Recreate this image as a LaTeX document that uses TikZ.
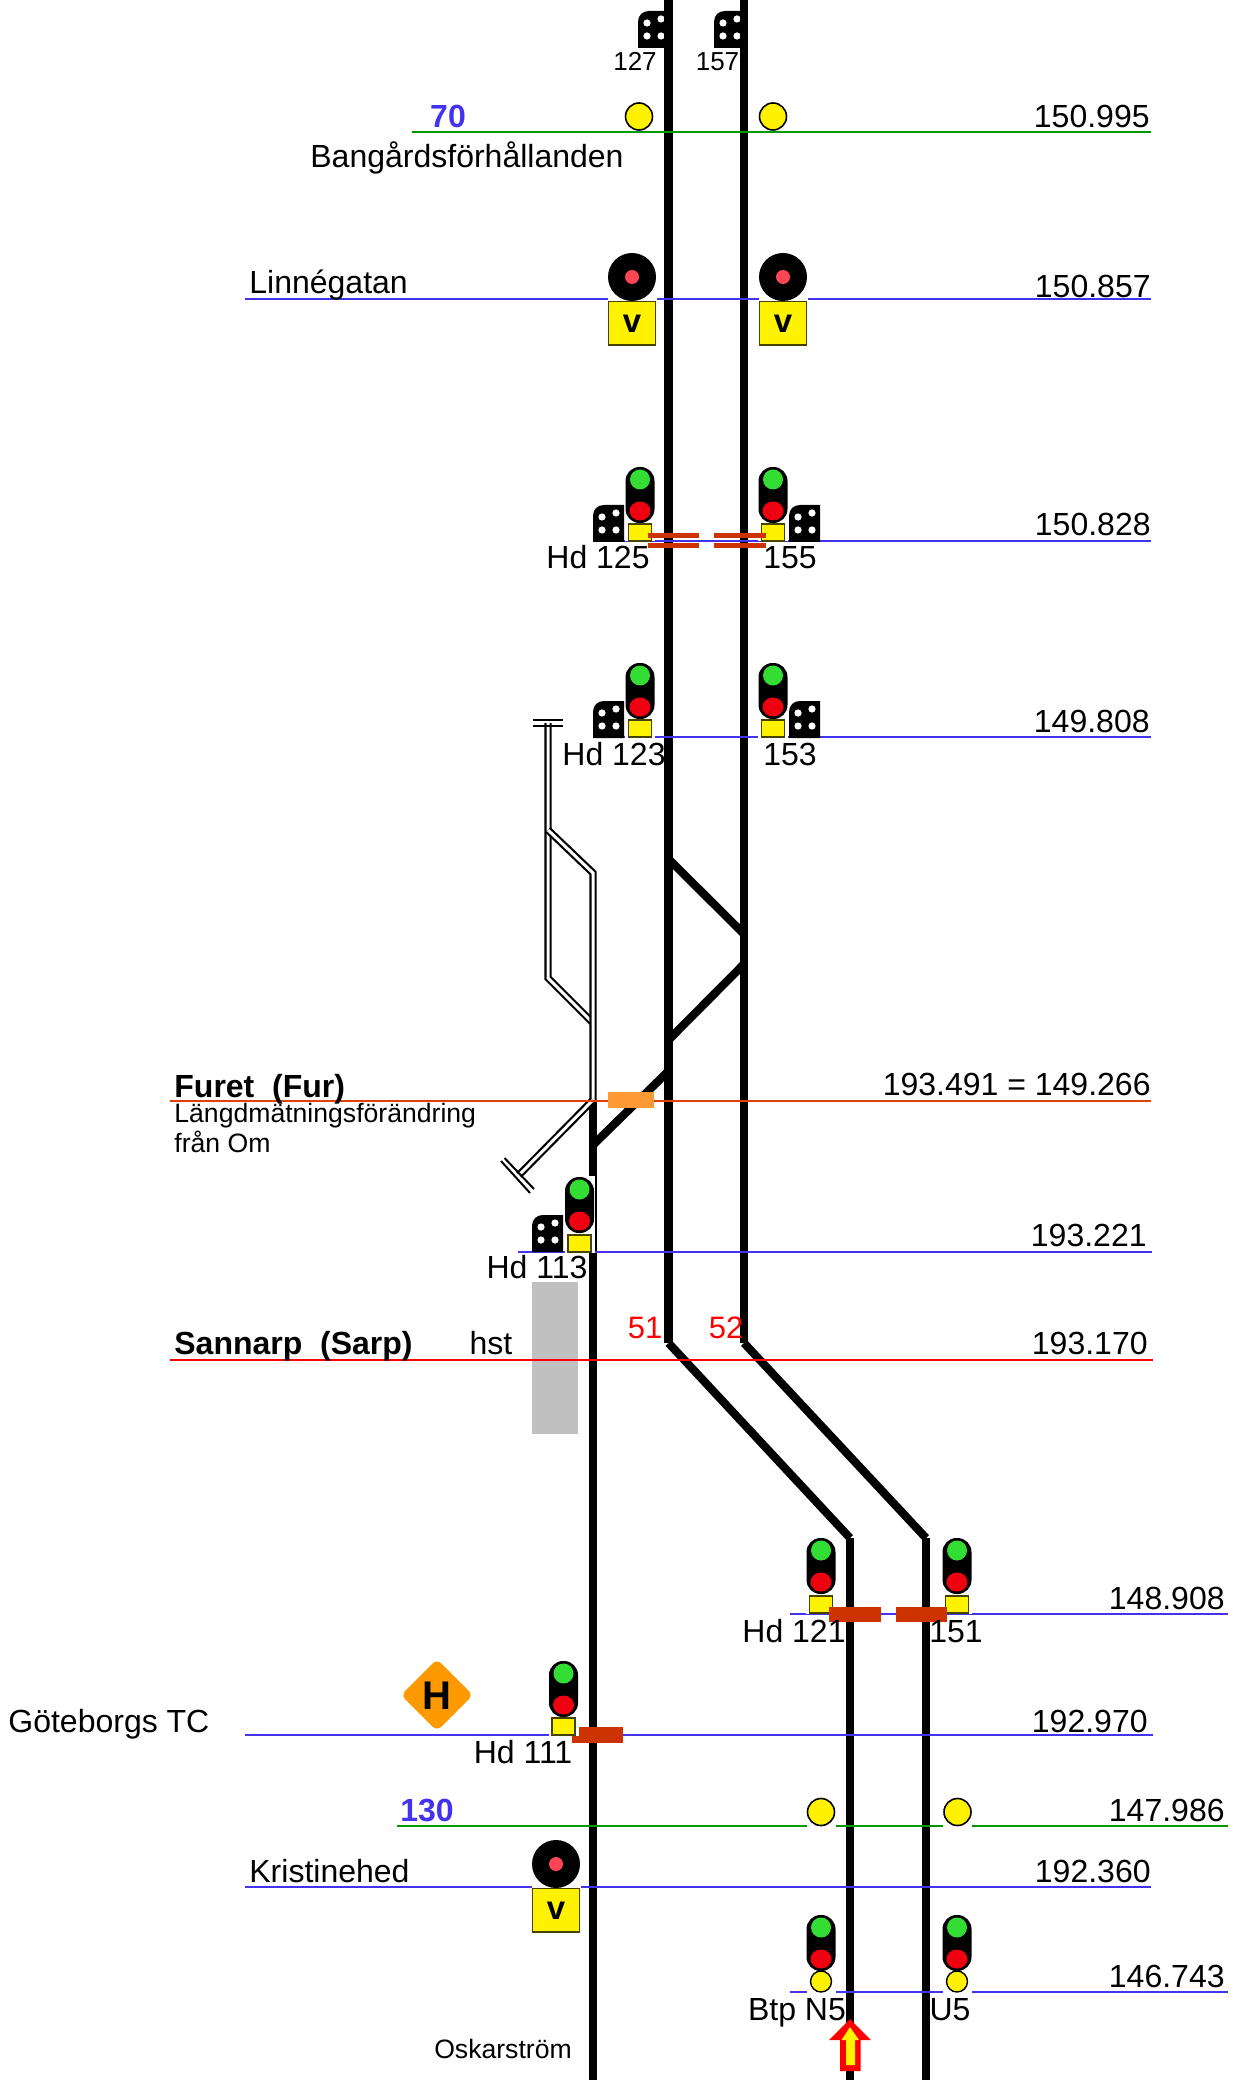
\documentclass[tikz,border=0pt]{standalone}
\usepackage{fontspec}
\setmainfont{Liberation Sans}
\definecolor{kmblue}{HTML}{4433EE}
\definecolor{spgreen}{HTML}{009900}
\definecolor{furline}{HTML}{DD4400}
\definecolor{barred}{HTML}{CC3300}
\definecolor{lampgreen}{HTML}{33DD33}
\definecolor{lampred}{HTML}{EE0011}
\definecolor{dwarfred}{HTML}{FF4455}
\definecolor{sqedge}{HTML}{444400}
\definecolor{platform}{HTML}{C0C0C0}
\definecolor{orangebox}{HTML}{FF9933}
\definecolor{hsign}{HTML}{FF9900}
\tikzset{
  x=0.5pt,y=-0.5pt,
  track/.style={draw=black,line width=4.1pt,line cap=butt},
  thinline/.style={line width=1pt},
  kmline/.style={thinline,draw=kmblue},
  speedline/.style={thinline,draw=spgreen},
  dbltrack/.style={double=white,draw=black,line width=1.1pt,double distance=1.5pt,line cap=butt,line join=miter},
  bufferline/.style={draw=black,line width=1pt},
  lab/.style={inner sep=0pt,font=\fontsize{16}{18}\selectfont,text height=0.716em,text depth=0pt,yshift=-1.8pt},
  smalllab/.style={lab,font=\fontsize{13.3}{16}\selectfont,yshift=0.9pt},
  sig127/.style={lab,font=\fontsize{13}{14}\selectfont,yshift=1.2pt},
  boldlab/.style={lab,font=\bfseries\fontsize{16}{18}\selectfont},
  speedlab/.style={lab,font=\bfseries\fontsize{16}{18}\selectfont,text=kmblue},
  redlab/.style={lab,font=\fontsize{15.5}{18}\selectfont,text=red},
  bar/.style={fill=barred,draw=none},
  discsym/.pic={
    \fill[black] (0,37) -- (0,11) .. controls (0,4) and (5,0) .. (11,0) -- (31,0) -- (31,37) -- cycle;
    \foreach \dx/\dy in {9/12,23/8,9/25,23/25}{\fill[white] (\dx,\dy) circle[radius=3.6];}
  },
  headsym/.pic={
    \fill[white] (-15,-1) rectangle (15,57);
    \fill[black,rounded corners=7pt] (-14.5,0) rectangle (14.5,56);
    \fill[lampgreen] (0,12.5) ellipse[x radius=10,y radius=10];
    \fill[lampred] (0,44) ellipse[x radius=10.5,y radius=9.5];
  },
  sqbase/.pic={
    \fill[white] (-15,-1) rectangle (15,17.5);
    \draw[fill=yellow,draw=sqedge,line width=0.8pt] (-11.5,0) rectangle (11.5,17);
  },
  circbase/.pic={
    \fill[white] (-14.5,-11) rectangle (14.5,12);
    \draw[fill=yellow,draw=black,line width=0.7pt] (0,0) circle[radius=10.5];
  },
  speedcirc/.pic={
    \draw[fill=yellow,draw=black,line width=0.8pt] (0,0) circle[radius=13.5];
  },
  speedcircw/.pic={
    \fill[white] (-14.5,-14) rectangle (14.5,15.5);
    \draw[fill=yellow,draw=black,line width=0.8pt] (0,0) circle[radius=13.5];
  },
  dwarf/.pic={
    \fill[white] (-24.5,-24) rectangle (24.5,69);
    \fill[black] (0,0) circle[radius=24];
    \fill[dwarfred] (0,0) circle[radius=7];
    \draw[fill=yellow,draw=sqedge,line width=0.8pt] (-23.5,24.5) rectangle (23.5,68);
    \node[inner sep=0pt,font=\bfseries\fontsize{16.5}{18}\selectfont] at (0,47) {v};
  },
}
\begin{document}
\begin{tikzpicture}
\useasboundingbox (0,0) rectangle (1239,2080);
% junction coordinates
\coordinate (a0) at (668.5,0);  \coordinate (a1) at (668.5,1343); \coordinate (a2) at (850,1538); \coordinate (a3) at (850,2080);
\coordinate (b0) at (744,0);    \coordinate (b1) at (744,1343);   \coordinate (b2) at (926,1538); \coordinate (b3) at (926,2080);
\coordinate (c0) at (593,1100); \coordinate (c1) at (593,2080);
\coordinate (x1) at (668.5,859);  \coordinate (x2) at (744,934);
\coordinate (x3) at (668.5,1040); \coordinate (x4) at (744,964);
\coordinate (x5) at (593,1145);   \coordinate (x6) at (668.5,1071);
\coordinate (d0) at (548,723); \coordinate (d1) at (548,978); \coordinate (d2) at (593,1023);
\coordinate (d3) at (548,830); \coordinate (d4) at (593,873);
\coordinate (d5) at (519,1175);
% platform
\fill[platform] (532,1282) rectangle (578,1434);
% disc signals next to the tracks
\pic at (638,11) {discsym};
\pic at (714,11) {discsym};
% tracks
\draw[track] (a0) -- (a1);
\draw[track] (a1) -- (a2);
\draw[track] (a2) -- (a3);
\draw[track] (b0) -- (b1);
\draw[track] (b1) -- (b2);
\draw[track] (b2) -- (b3);
\draw[track] (c0) -- (c1);
\draw[track] (x1) -- (x2);
\draw[track] (x3) -- (x4);
\draw[track] (x5) -- (x6);
% side tracks
\draw[dbltrack] (d0) -- (d1) -- (d2);
\draw[dbltrack] (d3) -- (d4) -- (c0);
\draw[dbltrack] (c0) -- (d5);
\draw[bufferline] (533,720) -- (563,720);
\draw[bufferline] (533,726) -- (563,726);
\draw[bufferline] (501,1161) -- (530,1193);
\draw[bufferline] (504.5,1158) -- (534,1189);
% position lines
\draw[speedline] (412,132.5) -- (1151,132.5);
\draw[kmline] (245,299) -- (1151,299);
\draw[kmline] (593,541) -- (1151,541);
\draw[kmline] (593,737) -- (1151,737);
\draw[thinline,draw=furline] (170,1100.5) -- (1151,1100.5);
\draw[kmline] (518,1252) -- (1152,1252);
\draw[thinline,draw=red] (170,1360) -- (1153,1360);
\draw[kmline] (790,1614) -- (1228,1614);
\draw[kmline] (245,1735) -- (1153,1735);
\draw[speedline] (397,1826) -- (1228,1826);
\draw[kmline] (245,1887) -- (1151,1887);
\draw[kmline] (790,1992) -- (1228,1992);
% orange box
\fill[orangebox] (608,1092) rectangle (654,1108);
% bar behind signal Hd 111
\fill[bar] (572,1727) rectangle (623,1743);
% speed boards
\pic at (639,116.5) {speedcirc};
\pic at (773,116.5) {speedcirc};
\pic at (821,1812) {speedcircw};
\pic at (957.5,1812) {speedcircw};
% dwarf signals
\pic at (632,277) {dwarf};
\pic at (783,277) {dwarf};
\pic at (556,1864) {dwarf};
% main signals
\pic at (593,505) {discsym};
\pic at (640,467) {headsym};
\pic at (640,524) {sqbase};
\pic at (789,505) {discsym};
\pic at (773,467) {headsym};
\pic at (773,524) {sqbase};
\pic at (593,701) {discsym};
\pic at (640,663) {headsym};
\pic at (640,720) {sqbase};
\pic at (789,701) {discsym};
\pic at (773,663) {headsym};
\pic at (773,720) {sqbase};
\pic at (532,1215) {discsym};
\pic at (579.5,1177) {headsym};
\pic at (579.5,1235) {sqbase};
\pic at (821,1538) {headsym};
\pic at (821,1596) {sqbase};
\pic at (957,1538) {headsym};
\pic at (957,1596) {sqbase};
\pic at (563.5,1661) {headsym};
\pic at (563.5,1718) {sqbase};
\pic at (821,1915) {headsym};
\pic at (821,1981.5) {circbase};
\pic at (957,1915) {headsym};
\pic at (957,1981.5) {circbase};
% red bars
\fill[bar] (648,533.5) rectangle (699,538.5);
\fill[bar] (648,543.5) rectangle (699,548.5);
\fill[bar] (714,533.5) rectangle (766,538.5);
\fill[bar] (714,543.5) rectangle (766,548.5);
\fill[bar] (829,1607) rectangle (881,1622);
\fill[bar] (896,1607) rectangle (947,1622);
% H sign
\fill[hsign,rounded corners=3pt] (437,1659) -- (473,1695) -- (437,1731) -- (401,1695) -- cycle;
\node[inner sep=0pt,font=\bfseries\fontsize{20}{22}\selectfont] (hletter) at (437,1696) {H};
% red arrow
\fill[red] (850,2019) -- (871,2040) -- (860.5,2040) -- (860.5,2071) -- (840,2071) -- (840,2040) -- (829,2040) -- cycle;
\fill[yellow] (850,2027) -- (859,2040) -- (855,2040) -- (855,2065) -- (846,2065) -- (846,2040) -- (841.5,2040) -- cycle;
% labels
\node[sig127] (t127) at (635,62) {127};
\node[sig127] (t157) at (717.5,62) {157};
\node[speedlab] (t70) at (448,117) {70};
\node[lab,anchor=west] (tbang) at (310,157) {Bangårdsförhållanden};
\node[lab,anchor=west] (tlinne) at (249,283) {Linnégatan};
\node[lab] (th125) at (598,558) {Hd 125};
\node[lab] (t155) at (790,558) {155};
\node[lab] (th123) at (614,755) {Hd 123};
\node[lab] (t153) at (790,755) {153};
\node[boldlab,anchor=west] (tfur) at (174,1087) {Furet\ \ (Fur)};
\node[smalllab,anchor=west] (tlang) at (174,1114) {Längdmätningsförändring};
\node[smalllab,anchor=west] (tfran) at (174,1144) {från Om};
\node[lab] (th113) at (537,1268) {Hd 113};
\node[boldlab,anchor=west] (tsann) at (174,1344) {Sannarp\ \ (Sarp)};
\node[lab] (thst) at (491,1344) {hst};
\node[redlab] (t51) at (645,1328) {51};
\node[redlab] (t52) at (726,1328) {52};
\node[lab] (th121) at (794,1632) {Hd 121};
\node[lab] (t151) at (956,1632) {151};
\node[lab,anchor=west] (tgot) at (8,1722) {Göteborgs TC};
\node[lab] (th111) at (523,1753) {Hd 111};
\node[speedlab] (t130) at (427,1811) {130};
\node[lab,anchor=west] (tkris) at (249,1872) {Kristinehed};
\node[lab] (tbtp) at (797,2010) {Btp N5};
\node[lab] (tu5) at (950,2010) {U5};
\node[smalllab] (tosk) at (503,2050) {Oskarström};
% kilometre marks
\node[lab,anchor=east] (k1) at (1150,117) {150.995};
\node[lab,anchor=east] (k2) at (1151,287) {150.857};
\node[lab,anchor=east] (k3) at (1151,525) {150.828};
\node[lab,anchor=east] (k4) at (1150,722) {149.808};
\node[lab,anchor=east] (k5) at (1151,1085) {193.491 = 149.266};
\node[lab,anchor=east] (k6) at (1147,1236) {193.221};
\node[lab,anchor=east] (k7) at (1148,1344) {193.170};
\node[lab,anchor=east] (k8) at (1225,1599) {148.908};
\node[lab,anchor=east] (k9) at (1148,1722) {192.970};
\node[lab,anchor=east] (k10) at (1225,1811) {147.986};
\node[lab,anchor=east] (k11) at (1151,1872) {192.360};
\node[lab,anchor=east] (k12) at (1225,1977) {146.743};
\end{tikzpicture}
\end{document}
